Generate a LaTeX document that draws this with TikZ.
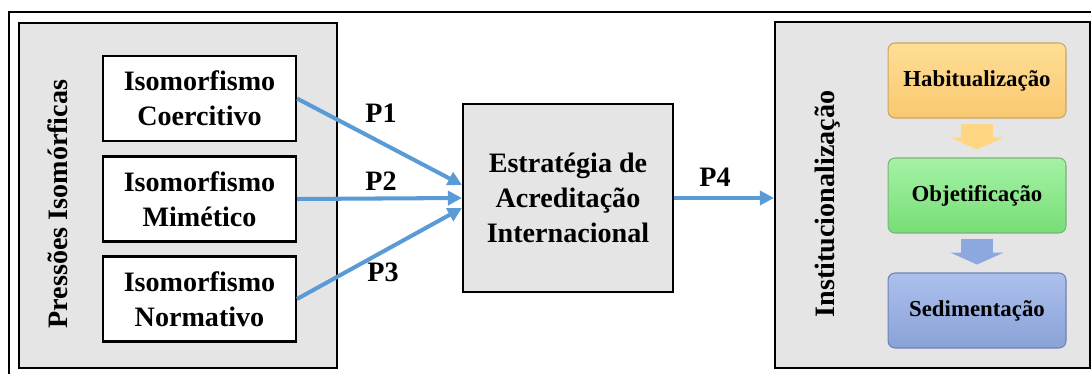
\documentclass[tikz,border=0pt]{standalone}
\usepackage{fontspec}
\setmainfont{Liberation Serif}
\usetikzlibrary{arrows.meta}
\definecolor{panelgray}{RGB}{230,229,230}
\definecolor{linkblue}{RGB}{91,155,213}
\definecolor{habtop}{RGB}{255,222,150}
\definecolor{habbot}{RGB}{249,200,112}
\definecolor{habline}{RGB}{200,165,100}
\definecolor{objtop}{RGB}{165,242,165}
\definecolor{objbot}{RGB}{118,222,118}
\definecolor{objline}{RGB}{120,180,120}
\definecolor{sedtop}{RGB}{172,192,236}
\definecolor{sedbot}{RGB}{138,162,216}
\definecolor{sedline}{RGB}{110,130,180}
\definecolor{flowora}{RGB}{255,214,130}
\definecolor{flowblu}{RGB}{140,168,222}
\tikzset{
  bigtext/.style={font=\bfseries\fontsize{16}{20}\selectfont},
  panel/.style={draw,line width=1.2pt,fill=panelgray,inner sep=0pt},
  isobox/.style={draw,line width=1.2pt,fill=white,minimum width=3.86cm,
    minimum height=1.7cm,align=center,bigtext},
  stage/.style={draw=#1line,line width=0.6pt,rounded corners=4pt,
    top color=#1top,bottom color=#1bot,minimum width=3.56cm,
    minimum height=1.5cm,font=\bfseries\fontsize{13}{16}\selectfont},
  link/.style={linkblue,line width=2.3pt,-{Triangle[length=8pt,width=8pt]}},
  flow/.style={#1,line width=18pt,-{Triangle[length=6.8pt,width=30pt]},
    shorten <=3.4pt,shorten >=4.5pt}
}
\begin{document}
\begin{tikzpicture}[x=0.02cm,y=-0.02cm]
\useasboundingbox (0,0) rectangle (1091,374);
\draw[line width=1.5pt] (9,374) -- (9,12) -- (1091,12);

% isomorphic pressures
\node[panel,minimum width=6.36cm,minimum height=6.9cm] (pressoes) at (178,195.5) {};
\node[bigtext,rotate=90] (pressoeslbl) at (58,204) {Pressões Isomórficas};
\node[isobox] (coerc) at (199.5,98.5) {Isomorfismo\\Coercitivo};
\node[isobox] (mimet) at (199.5,199) {Isomorfismo\\Mimético};
\node[isobox] (norma) at (199.5,299) {Isomorfismo\\Normativo};

% strategy
\node[panel,minimum width=4.2cm,minimum height=3.76cm,align=center,bigtext] (estrat) at (568,198)
  {Estratégia de\\Acreditação\\Internacional};

% institutionalization
\node[panel,minimum width=6.3cm,minimum height=6.92cm] (instit) at (932.5,195) {};
\node[bigtext,rotate=90] (institlbl) at (828,204) {Institucionalização};
\node[stage=hab] (habit) at (977,80.5) {Habitualização};
\node[stage=obj] (objet) at (977,195.5) {Objetificação};
\node[stage=sed] (sedim) at (977,310.5) {Sedimentação};
\draw[flow=flowora] (habit) -- (objet);
\draw[flow=flowblu] (objet) -- (sedim);

% propositions
\draw[link] (coerc.east) -- ([yshift=7.4pt]estrat.west);
\draw[link] (mimet.east) -- (estrat.west);
\draw[link] (norma.east) -- ([yshift=-5.7pt]estrat.west);
\draw[link] (estrat.east) -- (estrat.east -| instit.west);
\node[bigtext] (p1) at (381,113) {P1};
\node[bigtext] (p2) at (381,181) {P2};
\node[bigtext] (p3) at (383,272) {P3};
\node[bigtext] (p4) at (715,177) {P4};
\end{tikzpicture}
\end{document}
